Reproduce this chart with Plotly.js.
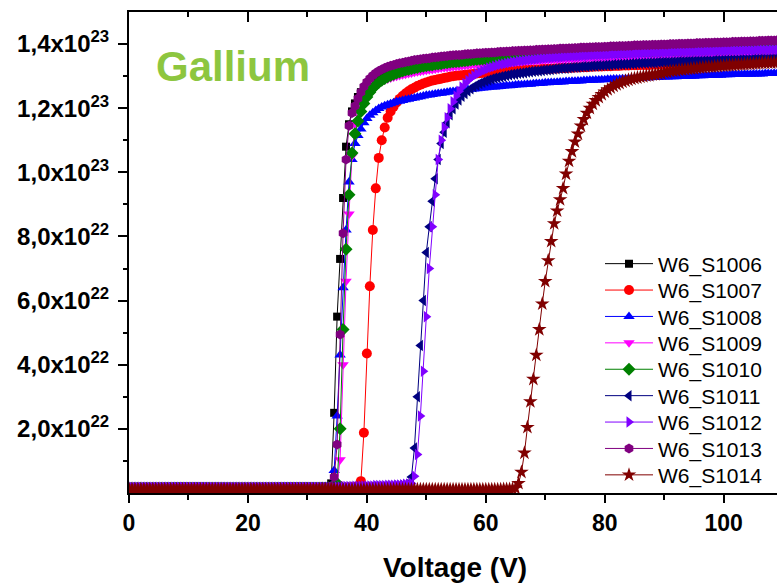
<!DOCTYPE html>
<html>
<head>
<meta charset="utf-8">
<script src="https://cdn.plot.ly/plotly-3.0.1.min.js"></script>
<style>
  html, body { margin: 0; padding: 0; overflow: hidden; background: #ffffff; }
  #chart { width: 830px; height: 586px; }
</style>
</head>
<body>
<div id="chart"></div>
<script>
// Gate voltage sweep (V), shared by every sample
const voltage = [
  0,0.5,1,1.5,2,2.5,3,3.5,4,4.5,5,5.5,6,6.5,7,7.5,8,8.5,9,9.5,
  10,10.5,11,11.5,12,12.5,13,13.5,14,14.5,15,15.5,16,16.5,17,17.5,18,18.5,19,19.5,
  20,20.5,21,21.5,22,22.5,23,23.5,24,24.5,25,25.5,26,26.5,27,27.5,28,28.5,29,29.5,
  30,30.5,31,31.5,32,32.5,33,33.5,34,34.5,35,35.5,36,36.5,37,37.5,38,38.5,39,39.5,
  40,40.5,41,41.5,42,42.5,43,43.5,44,44.5,45,45.5,46,46.5,47,47.5,48,48.5,49,49.5,
  50,50.5,51,51.5,52,52.5,53,53.5,54,54.5,55,55.5,56,56.5,57,57.5,58,58.5,59,59.5,
  60,60.5,61,61.5,62,62.5,63,63.5,64,64.5,65,65.5,66,66.5,67,67.5,68,68.5,69,69.5,
  70,70.5,71,71.5,72,72.5,73,73.5,74,74.5,75,75.5,76,76.5,77,77.5,78,78.5,79,79.5,
  80,80.5,81,81.5,82,82.5,83,83.5,84,84.5,85,85.5,86,86.5,87,87.5,88,88.5,89,89.5,
  90,90.5,91,91.5,92,92.5,93,93.5,94,94.5,95,95.5,96,96.5,97,97.5,98,98.5,99,99.5,
  100,100.5,101,101.5,102,102.5,103,103.5,104,104.5,105,105.5,106,106.5,107,107.5,108,108.5,109,109.5,
  110
];

// Sample names
const sampleNames = ['W6_S1006','W6_S1007','W6_S1008','W6_S1009','W6_S1010','W6_S1011','W6_S1012','W6_S1013','W6_S1014'];

// Measured values, in units of 1e22
const UNIT = 1e22;

const s1006 = [
  0.14,0.14,0.14,0.14,0.14,0.14,0.14,0.14,0.14,0.14,0.14,0.14,0.14,0.14,0.14,0.14,0.14,0.14,0.14,0.14,
  0.14,0.14,0.14,0.14,0.14,0.14,0.14,0.14,0.14,0.14,0.14,0.14,0.14,0.14,0.14,0.14,0.14,0.14,0.14,0.14,
  0.14,0.14,0.14,0.14,0.14,0.14,0.14,0.14,0.14,0.14,0.14,0.14,0.14,0.14,0.14,0.14,0.14,0.14,0.14,0.14,
  0.14,0.14,0.14,0.14,0.15,0.15,0.16,0.18,0.3,2.5,5.5,7.3,9.2,10.8,11.5,11.9,12.15,12.35,12.5,12.62,
  12.72,12.8,12.87,12.93,12.98,13.02,13.06,13.1,13.13,13.16,13.19,13.21,13.23,13.25,13.27,13.29,13.31,13.33,13.34,13.36,
  13.37,13.38,13.4,13.41,13.42,13.43,13.44,13.45,13.46,13.47,13.48,13.49,13.5,13.51,13.52,13.53,13.54,13.54,13.55,13.56,
  13.57,13.57,13.58,13.59,13.6,13.6,13.61,13.62,13.62,13.63,13.63,13.64,13.65,13.65,13.66,13.66,13.67,13.67,13.68,13.68,
  13.69,13.69,13.7,13.7,13.71,13.71,13.72,13.72,13.73,13.73,13.74,13.74,13.75,13.75,13.75,13.76,13.76,13.77,13.77,13.78,
  13.78,13.78,13.79,13.79,13.8,13.8,13.8,13.81,13.81,13.82,13.82,13.82,13.83,13.83,13.83,13.84,13.84,13.85,13.85,13.85,
  13.86,13.86,13.86,13.87,13.87,13.87,13.88,13.88,13.88,13.89,13.89,13.89,13.9,13.9,13.9,13.91,13.91,13.91,13.92,13.92,
  13.92,13.93,13.93,13.93,13.94,13.94,13.94,13.95,13.95,13.95,13.96,13.96,13.96,13.97,13.97,13.97,13.98,13.98,13.98,13.99,
  13.99
];

const s1007 = [
  0.13,0.13,0.13,0.13,0.13,0.13,0.13,0.13,0.13,0.13,0.13,0.13,0.13,0.13,0.13,0.13,0.13,0.13,0.13,0.13,
  0.13,0.13,0.13,0.13,0.13,0.13,0.13,0.13,0.13,0.13,0.13,0.13,0.13,0.13,0.13,0.13,0.13,0.13,0.13,0.13,
  0.13,0.13,0.13,0.13,0.13,0.13,0.13,0.13,0.13,0.13,0.13,0.13,0.13,0.13,0.13,0.13,0.13,0.13,0.13,0.13,
  0.13,0.13,0.13,0.13,0.13,0.13,0.13,0.13,0.13,0.14,0.14,0.14,0.15,0.15,0.16,0.17,0.18,0.22,0.37,1.88,
  4.35,6.45,8.2,9.5,10.45,11.0,11.4,11.7,11.9,12.05,12.18,12.29,12.38,12.46,12.53,12.59,12.64,12.69,12.73,12.77,
  12.8,12.83,12.86,12.88,12.9,12.92,12.94,12.96,12.98,13.0,13.01,13.02,13.03,13.04,13.05,13.06,13.07,13.08,13.09,13.1,
  13.11,13.11,13.12,13.13,13.13,13.14,13.15,13.15,13.16,13.17,13.17,13.18,13.18,13.19,13.19,13.2,13.2,13.21,13.21,13.22,
  13.22,13.23,13.23,13.24,13.24,13.25,13.25,13.25,13.26,13.26,13.27,13.27,13.28,13.28,13.28,13.29,13.29,13.3,13.3,13.3,
  13.31,13.31,13.31,13.32,13.32,13.32,13.33,13.33,13.33,13.34,13.34,13.34,13.35,13.35,13.35,13.35,13.36,13.36,13.36,13.37,
  13.37,13.37,13.37,13.38,13.38,13.38,13.38,13.39,13.39,13.39,13.39,13.4,13.4,13.4,13.4,13.41,13.41,13.41,13.41,13.42,
  13.42,13.42,13.42,13.43,13.43,13.43,13.43,13.44,13.44,13.44,13.44,13.45,13.45,13.45,13.45,13.46,13.46,13.46,13.46,13.47,
  13.47
];

const s1008 = [
  0.16,0.16,0.16,0.16,0.16,0.16,0.16,0.16,0.16,0.16,0.16,0.16,0.16,0.16,0.16,0.16,0.16,0.16,0.16,0.16,
  0.16,0.16,0.16,0.16,0.16,0.16,0.16,0.16,0.16,0.16,0.16,0.16,0.16,0.16,0.16,0.16,0.16,0.16,0.16,0.16,
  0.16,0.16,0.16,0.16,0.16,0.16,0.16,0.16,0.16,0.16,0.16,0.16,0.16,0.16,0.16,0.16,0.16,0.16,0.16,0.16,
  0.16,0.16,0.16,0.16,0.16,0.17,0.17,0.18,0.22,0.7,2.4,4.3,6.4,8.2,9.7,10.4,10.9,11.15,11.35,11.55,
  11.68,11.78,11.86,11.93,11.99,12.04,12.08,12.11,12.14,12.17,12.2,12.22,12.24,12.26,12.28,12.3,12.32,12.34,12.36,12.38,
  12.4,12.41,12.43,12.44,12.46,12.47,12.48,12.5,12.51,12.52,12.53,12.54,12.56,12.57,12.58,12.59,12.6,12.61,12.62,12.63,
  12.64,12.65,12.66,12.66,12.67,12.68,12.69,12.7,12.7,12.71,12.72,12.73,12.73,12.74,12.75,12.75,12.76,12.77,12.77,12.78,
  12.79,12.79,12.8,12.8,12.81,12.82,12.82,12.83,12.83,12.84,12.84,12.85,12.85,12.86,12.86,12.87,12.87,12.88,12.88,12.89,
  12.89,12.9,12.9,12.91,12.91,12.91,12.92,12.92,12.93,12.93,12.93,12.94,12.94,12.95,12.95,12.95,12.96,12.96,12.96,12.97,
  12.97,12.97,12.98,12.98,12.98,12.99,12.99,12.99,13.0,13.0,13.0,13.01,13.01,13.01,13.02,13.02,13.02,13.03,13.03,13.03,
  13.04,13.04,13.04,13.05,13.05,13.05,13.05,13.06,13.06,13.06,13.07,13.07,13.07,13.07,13.08,13.08,13.08,13.09,13.09,13.09,
  13.1
];

const s1009 = [
  0.15,0.15,0.15,0.15,0.15,0.15,0.15,0.15,0.15,0.15,0.15,0.15,0.15,0.15,0.15,0.15,0.15,0.15,0.15,0.15,
  0.15,0.15,0.15,0.15,0.15,0.15,0.15,0.15,0.15,0.15,0.15,0.15,0.15,0.15,0.15,0.15,0.15,0.15,0.15,0.15,
  0.15,0.15,0.15,0.15,0.15,0.15,0.15,0.15,0.15,0.15,0.15,0.15,0.15,0.15,0.15,0.15,0.15,0.15,0.15,0.15,
  0.15,0.15,0.15,0.15,0.15,0.15,0.16,0.16,0.17,0.2,0.3,1.04,4.0,6.6,8.7,10.5,11.5,12.0,12.3,12.45,
  12.55,12.63,12.7,12.75,12.8,12.84,12.88,12.91,12.94,12.97,13.0,13.02,13.04,13.06,13.08,13.1,13.12,13.14,13.15,13.17,
  13.18,13.2,13.21,13.22,13.24,13.25,13.26,13.27,13.28,13.29,13.3,13.31,13.32,13.33,13.34,13.35,13.36,13.36,13.37,13.38,
  13.39,13.39,13.4,13.41,13.41,13.42,13.43,13.43,13.44,13.44,13.45,13.46,13.46,13.47,13.47,13.48,13.48,13.49,13.49,13.5,
  13.5,13.51,13.51,13.52,13.52,13.53,13.53,13.53,13.54,13.54,13.55,13.55,13.56,13.56,13.56,13.57,13.57,13.58,13.58,13.58,
  13.59,13.59,13.59,13.6,13.6,13.6,13.61,13.61,13.61,13.62,13.62,13.62,13.63,13.63,13.63,13.64,13.64,13.64,13.64,13.65,
  13.65,13.65,13.66,13.66,13.66,13.66,13.67,13.67,13.67,13.67,13.68,13.68,13.68,13.68,13.69,13.69,13.69,13.69,13.7,13.7,
  13.7,13.7,13.71,13.71,13.71,13.71,13.72,13.72,13.72,13.72,13.72,13.73,13.73,13.73,13.73,13.74,13.74,13.74,13.74,13.74,
  13.75
];

const s1010 = [
  0.14,0.14,0.14,0.14,0.14,0.14,0.14,0.14,0.14,0.14,0.14,0.14,0.14,0.14,0.14,0.14,0.14,0.14,0.14,0.14,
  0.14,0.14,0.14,0.14,0.14,0.14,0.14,0.14,0.14,0.14,0.14,0.14,0.14,0.14,0.14,0.14,0.14,0.14,0.14,0.14,
  0.14,0.14,0.14,0.14,0.14,0.14,0.14,0.14,0.14,0.14,0.14,0.14,0.14,0.14,0.14,0.14,0.14,0.14,0.14,0.14,
  0.14,0.14,0.14,0.14,0.14,0.15,0.15,0.16,0.17,0.2,0.3,2.0,5.1,7.6,9.3,10.6,11.2,11.6,11.9,12.15,
  12.35,12.5,12.62,12.72,12.8,12.87,12.93,12.98,13.02,13.06,13.1,13.13,13.16,13.19,13.21,13.23,13.25,13.27,13.29,13.31,
  13.32,13.34,13.35,13.37,13.38,13.39,13.41,13.42,13.43,13.44,13.45,13.46,13.47,13.48,13.49,13.5,13.51,13.52,13.53,13.53,
  13.54,13.55,13.56,13.56,13.57,13.58,13.58,13.59,13.6,13.6,13.61,13.61,13.62,13.63,13.63,13.64,13.64,13.65,13.65,13.66,
  13.66,13.67,13.67,13.68,13.68,13.69,13.69,13.7,13.7,13.71,13.71,13.71,13.72,13.72,13.73,13.73,13.73,13.74,13.74,13.75,
  13.75,13.75,13.76,13.76,13.76,13.77,13.77,13.77,13.78,13.78,13.78,13.79,13.79,13.79,13.8,13.8,13.8,13.81,13.81,13.81,
  13.82,13.82,13.82,13.82,13.83,13.83,13.83,13.84,13.84,13.84,13.84,13.85,13.85,13.85,13.85,13.86,13.86,13.86,13.86,13.87,
  13.87,13.87,13.87,13.88,13.88,13.88,13.88,13.89,13.89,13.89,13.89,13.9,13.9,13.9,13.9,13.9,13.91,13.91,13.91,13.91,
  13.92
];

const s1011 = [
  0.17,0.17,0.17,0.17,0.17,0.17,0.17,0.17,0.17,0.17,0.17,0.17,0.17,0.17,0.17,0.17,0.17,0.17,0.17,0.17,
  0.17,0.17,0.17,0.17,0.17,0.17,0.17,0.17,0.17,0.17,0.17,0.17,0.17,0.17,0.17,0.17,0.17,0.17,0.17,0.17,
  0.17,0.17,0.17,0.17,0.17,0.17,0.17,0.17,0.17,0.17,0.17,0.17,0.17,0.17,0.17,0.17,0.17,0.17,0.17,0.17,
  0.17,0.17,0.17,0.17,0.17,0.17,0.17,0.17,0.17,0.17,0.17,0.17,0.17,0.17,0.18,0.18,0.18,0.18,0.18,0.18,
  0.19,0.19,0.2,0.2,0.2,0.2,0.21,0.21,0.21,0.22,0.22,0.23,0.24,0.26,0.3,0.5,1.4,3.0,4.6,6.0,
  7.5,8.3,9.1,9.8,10.4,10.9,11.25,11.55,11.8,11.98,12.13,12.26,12.37,12.46,12.54,12.61,12.67,12.72,12.77,12.81,
  12.85,12.88,12.91,12.94,12.96,12.98,13.0,13.02,13.04,13.06,13.07,13.09,13.1,13.11,13.13,13.14,13.15,13.16,13.17,13.18,
  13.19,13.2,13.21,13.22,13.23,13.24,13.25,13.25,13.26,13.27,13.28,13.28,13.29,13.3,13.3,13.31,13.32,13.32,13.33,13.33,
  13.34,13.35,13.35,13.36,13.36,13.37,13.37,13.38,13.38,13.39,13.39,13.4,13.4,13.41,13.41,13.42,13.42,13.42,13.43,13.43,
  13.44,13.44,13.44,13.45,13.45,13.46,13.46,13.46,13.47,13.47,13.47,13.48,13.48,13.48,13.49,13.49,13.49,13.5,13.5,13.5,
  13.51,13.51,13.51,13.52,13.52,13.52,13.53,13.53,13.53,13.53,13.54,13.54,13.54,13.55,13.55,13.55,13.55,13.56,13.56,13.56,
  13.57
];

const s1012 = [
  0.18,0.18,0.18,0.18,0.18,0.18,0.18,0.18,0.18,0.18,0.18,0.18,0.18,0.18,0.18,0.18,0.18,0.18,0.18,0.18,
  0.18,0.18,0.18,0.18,0.18,0.18,0.18,0.18,0.18,0.18,0.18,0.18,0.18,0.18,0.18,0.18,0.18,0.18,0.18,0.18,
  0.18,0.18,0.18,0.18,0.18,0.18,0.18,0.18,0.18,0.18,0.18,0.18,0.18,0.18,0.18,0.18,0.18,0.18,0.18,0.18,
  0.18,0.18,0.18,0.18,0.18,0.18,0.18,0.18,0.18,0.18,0.19,0.19,0.19,0.2,0.2,0.2,0.21,0.21,0.21,0.22,
  0.22,0.22,0.22,0.23,0.23,0.23,0.23,0.24,0.24,0.24,0.25,0.25,0.26,0.27,0.28,0.3,0.52,1.2,2.4,3.8,
  5.5,7.0,8.3,9.3,10.4,11.0,11.4,11.7,11.98,12.2,12.38,12.53,12.66,12.77,12.86,12.94,13.01,13.07,13.12,13.17,
  13.21,13.25,13.28,13.31,13.34,13.36,13.38,13.4,13.42,13.44,13.45,13.47,13.48,13.49,13.5,13.51,13.52,13.53,13.54,13.55,
  13.56,13.57,13.57,13.58,13.59,13.59,13.6,13.61,13.61,13.62,13.62,13.63,13.63,13.64,13.64,13.65,13.65,13.66,13.66,13.67,
  13.67,13.67,13.68,13.68,13.69,13.69,13.69,13.7,13.7,13.7,13.71,13.71,13.71,13.72,13.72,13.72,13.73,13.73,13.73,13.74,
  13.74,13.74,13.74,13.75,13.75,13.75,13.76,13.76,13.76,13.76,13.77,13.77,13.77,13.77,13.78,13.78,13.78,13.78,13.79,13.79,
  13.79,13.79,13.8,13.8,13.8,13.8,13.8,13.81,13.81,13.81,13.81,13.82,13.82,13.82,13.82,13.82,13.83,13.83,13.83,13.83,
  13.84
];

const s1013 = [
  0.15,0.15,0.15,0.15,0.15,0.15,0.15,0.15,0.15,0.15,0.15,0.15,0.15,0.15,0.15,0.15,0.15,0.15,0.15,0.15,
  0.15,0.15,0.15,0.15,0.15,0.15,0.15,0.15,0.15,0.15,0.15,0.15,0.15,0.15,0.15,0.15,0.15,0.15,0.15,0.15,
  0.15,0.15,0.15,0.15,0.15,0.15,0.15,0.15,0.15,0.15,0.15,0.15,0.15,0.15,0.15,0.15,0.15,0.15,0.15,0.15,
  0.15,0.15,0.15,0.15,0.15,0.16,0.16,0.17,0.2,0.5,1.51,4.94,8.1,10.4,11.45,11.85,12.07,12.3,12.5,12.68,
  12.82,12.93,13.02,13.1,13.16,13.21,13.25,13.29,13.32,13.35,13.38,13.4,13.42,13.44,13.46,13.48,13.5,13.51,13.53,13.54,
  13.55,13.56,13.58,13.59,13.6,13.61,13.62,13.63,13.64,13.65,13.66,13.66,13.67,13.68,13.69,13.69,13.7,13.71,13.71,13.72,
  13.73,13.73,13.74,13.74,13.75,13.76,13.76,13.77,13.77,13.78,13.78,13.79,13.79,13.8,13.8,13.81,13.81,13.82,13.82,13.83,
  13.83,13.84,13.84,13.85,13.85,13.86,13.86,13.86,13.87,13.87,13.88,13.88,13.89,13.89,13.89,13.9,13.9,13.91,13.91,13.91,
  13.92,13.92,13.93,13.93,13.93,13.94,13.94,13.94,13.95,13.95,13.96,13.96,13.96,13.97,13.97,13.97,13.98,13.98,13.98,13.99,
  13.99,13.99,14.0,14.0,14.0,14.01,14.01,14.01,14.02,14.02,14.02,14.03,14.03,14.03,14.04,14.04,14.04,14.05,14.05,14.05,
  14.06,14.06,14.06,14.07,14.07,14.07,14.08,14.08,14.08,14.09,14.09,14.09,14.1,14.1,14.1,14.11,14.11,14.11,14.12,14.12,
  14.12
];

const s1014 = [
  0.11,0.11,0.11,0.11,0.11,0.11,0.11,0.11,0.11,0.11,0.11,0.11,0.11,0.11,0.11,0.11,0.11,0.11,0.11,0.11,
  0.11,0.11,0.11,0.11,0.11,0.11,0.11,0.11,0.11,0.11,0.11,0.11,0.11,0.11,0.11,0.11,0.11,0.11,0.11,0.11,
  0.11,0.11,0.11,0.11,0.11,0.11,0.11,0.11,0.11,0.11,0.11,0.11,0.11,0.11,0.11,0.11,0.11,0.11,0.11,0.11,
  0.11,0.11,0.11,0.11,0.11,0.11,0.11,0.11,0.11,0.11,0.11,0.11,0.11,0.11,0.11,0.11,0.11,0.11,0.11,0.11,
  0.11,0.11,0.11,0.11,0.11,0.11,0.11,0.11,0.11,0.11,0.11,0.11,0.11,0.11,0.11,0.11,0.11,0.11,0.11,0.11,
  0.11,0.11,0.11,0.11,0.11,0.11,0.11,0.11,0.11,0.11,0.11,0.11,0.11,0.11,0.11,0.11,0.11,0.11,0.11,0.11,
  0.11,0.11,0.11,0.11,0.11,0.11,0.12,0.12,0.12,0.13,0.15,0.3,0.65,1.25,2.05,2.85,3.55,4.3,5.1,5.9,
  6.6,7.25,7.85,8.4,8.8,9.15,9.5,9.95,10.35,10.65,10.95,11.2,11.45,11.65,11.85,12.0,12.13,12.24,12.34,12.43,
  12.51,12.58,12.64,12.69,12.74,12.78,12.82,12.85,12.88,12.91,12.93,12.95,12.97,12.99,13.01,13.02,13.04,13.05,13.07,13.08,
  13.12,13.13,13.15,13.16,13.17,13.19,13.2,13.21,13.22,13.23,13.24,13.25,13.26,13.27,13.28,13.29,13.29,13.3,13.31,13.32,
  13.32,13.33,13.34,13.34,13.35,13.36,13.36,13.37,13.38,13.38,13.39,13.39,13.4,13.41,13.41,13.42,13.42,13.43,13.43,13.44,
  13.45
];

// Axis tick positions and labels
const voltageTicks = [0, 20, 40, 60, 80, 100];
const voltageMinorTicks = [10, 30, 50, 70, 90];
const densityTicks = [2e22, 4e22, 6e22, 8e22, 1e23, 1.2e23, 1.4e23];
const densityTickText = ['2,0x10<sup>22</sup>','4,0x10<sup>22</sup>','6,0x10<sup>22</sup>','8,0x10<sup>22</sup>',
                         '1,0x10<sup>23</sup>','1,2x10<sup>23</sup>','1,4x10<sup>23</sup>'];
const densityMinorTicks = [1e22, 3e22, 5e22, 7e22, 9e22, 1.1e23, 1.3e23];

const seriesValues = [s1006, s1007, s1008, s1009, s1010, s1011, s1012, s1013, s1014];

// Origin-style colours and symbols, one per sample
const lineColors = ['#000000','#ff0000','#0000ff','#ff00ff','#008000','#000080','#8000ff','#800080','#800000'];
const markerSymbols = ['square','circle','triangle-up','triangle-down','diamond','triangle-left','triangle-right','hexagon','star'];
const markerSizes = [8, 10, 10, 10, 10, 10, 10, 10, 11];

// The last two series sit on the overlaid axes (same ranges) that carry the
// left minor ticks and the top frame edge; overlays draw after the main plot,
// so the stacking order of the series is unchanged.
const axisPairs = [
  ['x','y'],['x','y'],['x','y'],['x','y'],['x','y'],['x','y'],['x','y'],
  ['x','y2'],
  ['x2','y']
];

const FONT = 'Liberation Sans, Arial, Helvetica, sans-serif';

// Plot frame geometry (px)
const W = 830, H = 586;
const M = { l: 129, r: 35, t: 12, b: 93 };
const plotW = W - M.l - M.r;
const plotH = H - M.t - M.b;
const pxToPaperX = px => (px - M.l) / plotW;
const pxToPaperY = py => (H - M.b - py) / plotH;

const X_RANGE = [0, 112];
const Y_RANGE = [0, 1.5e23];

const traces = seriesValues.map((vals, i) => ({
  type: 'scatter',
  mode: 'lines+markers',
  name: sampleNames[i],
  x: voltage,
  y: vals.map(v => v * UNIT),
  xaxis: axisPairs[i][0],
  yaxis: axisPairs[i][1],
  line: { color: lineColors[i], width: 1 },
  marker: { symbol: markerSymbols[i], size: markerSizes[i], color: lineColors[i], line: { width: 0 } },
  legend: i === 0 ? 'legend' : 'legend' + (i + 1),
  hoverinfo: 'skip'
}));

const layout = {
  width: W,
  height: H,
  autosize: false,
  margin: M,
  paper_bgcolor: '#ffffff',
  plot_bgcolor: '#ffffff',
  showlegend: true,
  font: { family: FONT, color: '#000000' },
  // bottom axis: labelled major ticks plus minor ticks, both pointing outward
  xaxis: {
    range: X_RANGE,
    showgrid: false,
    zeroline: false,
    showline: true,
    mirror: true,
    linecolor: '#000000',
    linewidth: 2,
    tickmode: 'array',
    tickvals: voltageTicks,
    ticktext: voltageTicks.map(String),
    ticks: 'outside',
    ticklen: 8,
    tickwidth: 2,
    tickcolor: '#000000',
    tickfont: { family: FONT, size: 23, weight: 700, color: '#000000' },
    minor: { tickmode: 'array', tickvals: voltageMinorTicks, ticks: 'outside', ticklen: 5, tickwidth: 2, tickcolor: '#000000', showgrid: false }
  },
  // top edge of the frame: unlabelled ticks pointing into the plot
  xaxis2: {
    overlaying: 'x',
    side: 'top',
    anchor: 'y',
    range: X_RANGE,
    showgrid: false,
    zeroline: false,
    showline: true,
    linecolor: '#000000',
    linewidth: 2,
    tickmode: 'array',
    tickvals: voltageTicks,
    showticklabels: false,
    ticks: 'inside',
    ticklen: 10,
    tickwidth: 2,
    tickcolor: '#000000',
    minor: { tickmode: 'array', tickvals: voltageMinorTicks, ticks: 'inside', ticklen: 5, tickwidth: 2, tickcolor: '#000000', showgrid: false }
  },
  // left axis: labelled major ticks
  yaxis: {
    range: Y_RANGE,
    showgrid: false,
    zeroline: false,
    showline: true,
    linecolor: '#000000',
    linewidth: 2,
    tickmode: 'array',
    tickvals: densityTicks,
    ticktext: densityTickText,
    ticks: 'outside',
    ticklen: 9,
    tickwidth: 2,
    tickcolor: '#000000',
    ticklabelstandoff: 4,
    tickfont: { family: FONT, size: 24, weight: 700, color: '#000000' }
  },
  // left axis minor ticks
  yaxis2: {
    overlaying: 'y',
    side: 'left',
    anchor: 'x',
    range: Y_RANGE,
    showgrid: false,
    zeroline: false,
    showline: false,
    tickmode: 'array',
    tickvals: densityMinorTicks,
    showticklabels: false,
    ticks: 'outside',
    ticklen: 5,
    tickwidth: 2,
    tickcolor: '#000000'
  },
  annotations: [
    {
      text: 'Gallium',
      xref: 'paper', yref: 'paper',
      x: pxToPaperX(233), y: pxToPaperY(67),
      xanchor: 'center', yanchor: 'middle',
      showarrow: false,
      font: { family: FONT, size: 42, weight: 700, color: '#8dc63f' }
    },
    {
      text: 'Voltage (V)',
      xref: 'paper', yref: 'paper',
      x: pxToPaperX(455), y: pxToPaperY(567),
      xanchor: 'center', yanchor: 'middle',
      showarrow: false,
      font: { family: FONT, size: 28, weight: 700, color: '#000000' }
    }
  ]
};

// One single-entry legend per sample, stacked in a column
sampleNames.forEach((name, i) => {
  const key = i === 0 ? 'legend' : 'legend' + (i + 1);
  layout[key] = {
    x: pxToPaperX(600),
    y: pxToPaperY(264 + i * 26.4),
    xanchor: 'left',
    yanchor: 'middle',
    bgcolor: 'rgba(0,0,0,0)',
    borderwidth: 0,
    itemwidth: 48,
    font: { family: FONT, size: 21, color: '#000000' }
  };
});

Plotly.newPlot('chart', traces, layout, { displayModeBar: false, staticPlot: true });
</script>
</body>
</html>
